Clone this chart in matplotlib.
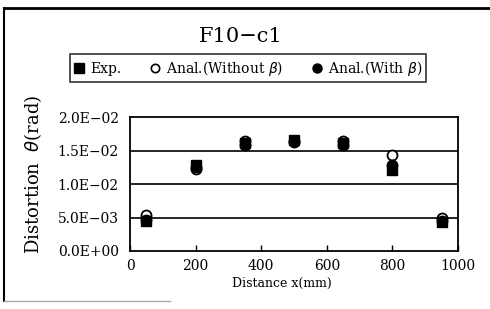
import matplotlib
matplotlib.use("Agg")
import matplotlib.pyplot as plt
from matplotlib.lines import Line2D

plt.rcParams["font.family"] = ["DejaVu Serif"]

# data
distance = [50, 200, 350, 500, 650, 800, 950]
exp_theta = [4.5e-3, 1.28e-2, 1.61e-2, 1.65e-2, 1.61e-2, 1.21e-2, 4.3e-3]
anal_without = [5.3e-3, 1.22e-2, 1.64e-2, 1.64e-2, 1.64e-2, 1.43e-2, 4.9e-3]
anal_with = [4.6e-3, 1.26e-2, 1.58e-2, 1.62e-2, 1.58e-2, 1.28e-2, 4.5e-3]

xticks = [0, 200, 400, 600, 800, 1000]
yticks = [0.0, 5e-3, 1e-2, 1.5e-2, 2e-2]
ytick_labels = ["0.0E+00", "5.0E\u221203", "1.0E\u221202", "1.5E\u221202", "2.0E\u221202"]

W, H = 490, 309
fig = plt.figure(figsize=(W / 100, H / 100), dpi=100)
ax = fig.add_axes([130 / W, 1 - 251 / H, (458 - 130) / W, (251 - 117) / H])

# open circles sit underneath the filled marks
ax.plot(distance, anal_without, "o", mfc="white", mec="black", mew=1.3, ms=7.2,
        zorder=3, clip_on=False)
ax.plot(distance, anal_with, "o", color="black", ms=7.5, zorder=4, clip_on=False)
ax.plot(distance, exp_theta, "s", color="black", ms=7.5, zorder=5, clip_on=False)

for v in yticks[1:-1]:
    ax.axhline(v, color="black", lw=1.2, zorder=1)

ax.set_xlim(0, 1000)
ax.set_ylim(0, 0.02)
ax.set_xticks(xticks)
ax.set_yticks(yticks)
ax.set_yticklabels(ytick_labels)
ax.tick_params(axis="x", direction="in", length=4, width=1, labelsize=10, pad=6)
ax.tick_params(axis="y", length=0, labelsize=10, pad=8)
for s in ax.spines.values():
    s.set_linewidth(1.3)

fig.text(33 / W, 1 - 174 / H, "Distortion  $\\theta$(rad)", rotation=90,
         ha="center", va="center", fontsize=13)
fig.text(282 / W, 1 - 283 / H, "Distance x(mm)", ha="center", va="center",
         fontsize=9)
fig.text(241 / W, 1 - 37 / H, "F10\u2212c1", ha="center", va="center", fontsize=15)

handles = [
    Line2D([], [], ls="none", marker="s", color="black", ms=6.5),
    Line2D([], [], ls="none", marker="o", mfc="white", mec="black", mew=1.2, ms=6),
    Line2D([], [], ls="none", marker="o", color="black", ms=6.5),
]
labels = ["Exp.", "Anal.(Without $\\beta$)", "Anal.(With $\\beta$)"]
leg = fig.legend(handles, labels, loc="center", bbox_to_anchor=(248 / W, 1 - 68 / H),
                 ncol=3, fontsize=10, frameon=True, fancybox=False, edgecolor="black",
                 handlelength=0.8, handletextpad=0.4, columnspacing=2.0,
                 borderpad=0.3, borderaxespad=0)
leg.get_frame().set_linewidth(1.2)

# outer frame (top, left, bottom)
fig.add_artist(Line2D([4 / W, 1], [1 - 8 / H, 1 - 8 / H], color="black", lw=2,
                      transform=fig.transFigure))
fig.add_artist(Line2D([4 / W, 4 / W], [1 - 8 / H, 1 - 301 / H], color="black", lw=1.5,
                      transform=fig.transFigure))
fig.add_artist(Line2D([4 / W, 170 / W], [1 - 301 / H, 1 - 301 / H], color="#aaaaaa",
                      lw=1, transform=fig.transFigure))

fig.savefig("out.png", dpi=100)
